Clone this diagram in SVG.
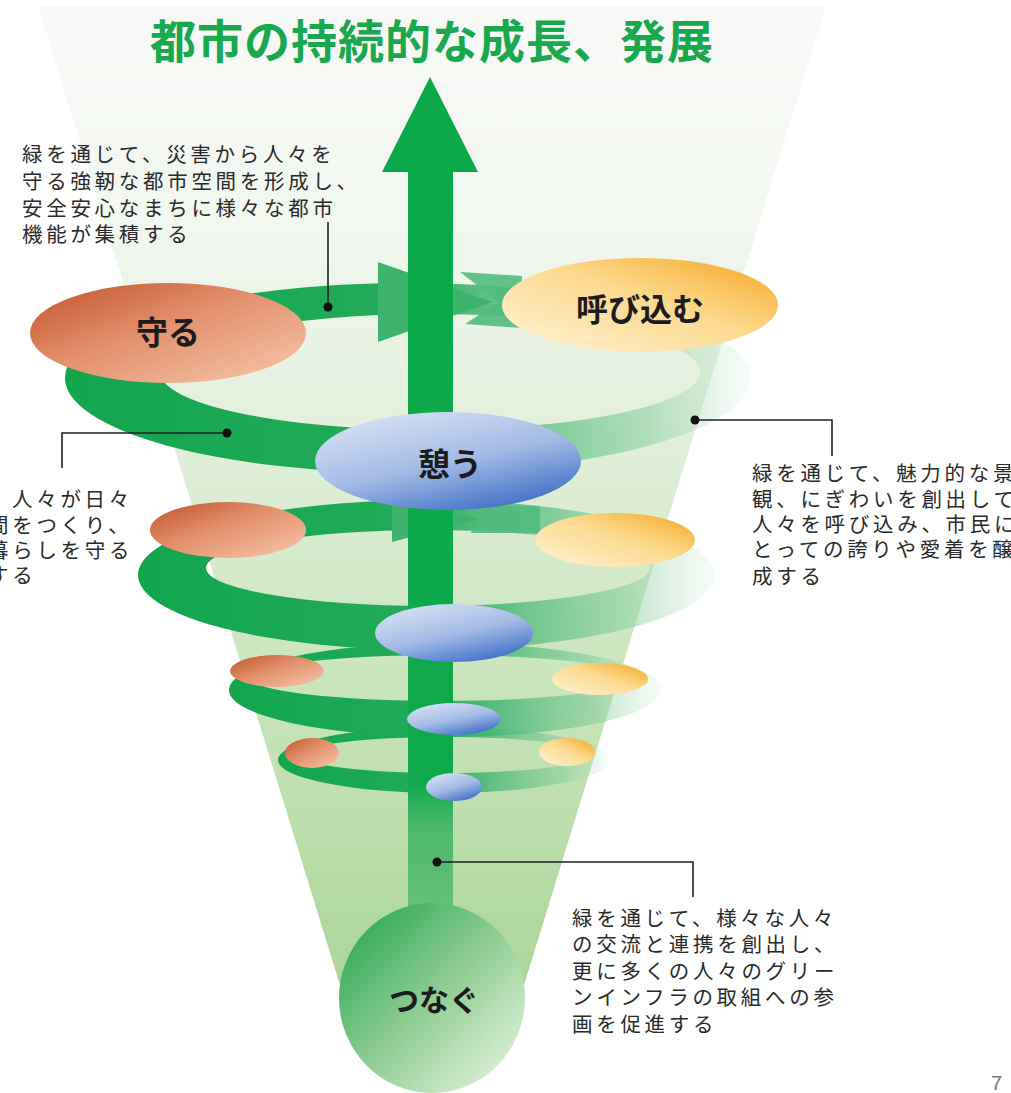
<svg xmlns="http://www.w3.org/2000/svg" width="1011" height="1093" viewBox="0 0 1011 1093">
<defs>
<linearGradient id="coneG" x1="0" y1="0" x2="0" y2="1">
<stop offset="0" stop-color="#f8f9f7"/>
<stop offset="0.22" stop-color="#f2f7f0"/>
<stop offset="0.45" stop-color="#e1efda"/>
<stop offset="0.7" stop-color="#c8e4bb"/>
<stop offset="1" stop-color="#acd59a"/>
</linearGradient>
<linearGradient id="ringG" x1="0" y1="0" x2="1" y2="0">
<stop offset="0" stop-color="#12a54e"/>
<stop offset="0.48" stop-color="#22ab5a"/>
<stop offset="0.62" stop-color="#45b674" stop-opacity="0.85"/>
<stop offset="0.85" stop-color="#7fca99" stop-opacity="0.5"/>
<stop offset="1" stop-color="#c5e5cf" stop-opacity="0.15"/>
</linearGradient>
<linearGradient id="shaftG" x1="0" y1="0" x2="0" y2="1">
<stop offset="0" stop-color="#0aa84a"/>
<stop offset="0.8" stop-color="#0fa94c"/>
<stop offset="0.86" stop-color="#4db86a"/>
<stop offset="1" stop-color="#6cc27e"/>
</linearGradient>
<linearGradient id="orG" x1="0" y1="0" x2="1" y2="1">
<stop offset="0" stop-color="#c0542c"/>
<stop offset="0.45" stop-color="#e38f6c"/>
<stop offset="1" stop-color="#f7c9ae"/>
</linearGradient>
<linearGradient id="yeG" x1="0" y1="1" x2="1" y2="0">
<stop offset="0" stop-color="#fff4d9"/>
<stop offset="0.55" stop-color="#fcd98e"/>
<stop offset="1" stop-color="#f5a51f"/>
</linearGradient>
<linearGradient id="blG" x1="0.2" y1="0" x2="0.8" y2="1">
<stop offset="0" stop-color="#d6e1f3"/>
<stop offset="0.5" stop-color="#a5bce6"/>
<stop offset="1" stop-color="#386ac4"/>
</linearGradient>
<linearGradient id="grG" x1="0.1" y1="0.1" x2="0.9" y2="0.9">
<stop offset="0" stop-color="#33ab59"/>
<stop offset="0.5" stop-color="#8fcc93"/>
<stop offset="1" stop-color="#dcefd6"/>
</linearGradient>
<style>
.ring{fill:url(#ringG);fill-rule:evenodd}
.ah{fill:#3db36d}
.at{fill:#52ba7e;opacity:0.9}
.or{fill:url(#orG)}
.ye{fill:url(#yeG)}
.bl{fill:url(#blG)}
.lbl{font-family:"Noto Sans CJK JP",sans-serif;font-size:32px;font-weight:bold;fill:#1c1c1c;text-anchor:middle}
.body{font-family:"Noto Sans CJK JP",sans-serif;font-size:20.5px;letter-spacing:3.7px;fill:#2a2a2a}
.ln{fill:none;stroke:#222;stroke-width:1.6}
.dot{fill:#111}
</style>
</defs>
<rect width="1011" height="1093" fill="#ffffff"/>
<polygon id="cone" points="38,6 826,6 524,985 340,985" fill="url(#coneG)"/>

<g id="spiral">
<path class="ring" d="M65,378 a343,95 0 1,0 686,0 a343,95 0 1,0 -686,0 Z M160,372 a270,58 0 1,0 540,0 a270,58 0 1,0 -540,0 Z"/>
<path class="ring" d="M138,575 a288,75 0 1,0 576,0 a288,75 0 1,0 -576,0 Z M206,568 a222,38 0 1,0 444,0 a222,38 0 1,0 -444,0 Z"/>
<path class="ring" d="M229,690 a216,47 0 1,0 432,0 a216,47 0 1,0 -432,0 Z M250,678 a191,23 0 1,0 382,0 a191,23 0 1,0 -382,0 Z"/>
<path class="ring" d="M278,760 a166,33 0 1,0 332,0 a166,33 0 1,0 -332,0 Z M300,755 a145,18 0 1,0 290,0 a145,18 0 1,0 -290,0 Z"/>
<polygon class="ah" points="378,262 492,302 378,342"/>
<polygon class="at" points="460,272 522,276 522,328 465,324 499,302"/>
<polygon class="ah" points="392,496 478,519 392,542"/>
<polygon class="at" points="466,505 540,506 540,533 470,533 488,519"/>
</g>

<g id="main-arrow">
<rect x="408" y="170" width="45" height="765" fill="url(#shaftG)"/>
<polygon points="430,77 478,172 382,172" fill="#0aa84a"/>
</g>

<g id="node-mamoru">
<ellipse class="or" cx="168" cy="333" rx="138" ry="50"/>
<text class="lbl" x="168" y="344">守る</text>
</g>
<g id="node-yobikomu">
<ellipse class="ye" cx="640" cy="305" rx="138" ry="47"/>
<text class="lbl" x="640" y="321">呼び込む</text>
</g>
<g id="node-ikou">
<ellipse class="bl" cx="448" cy="461" rx="133" ry="49"/>
<text class="lbl" x="450" y="476">憩う</text>
</g>
<g id="level2">
<ellipse class="or" cx="228" cy="530" rx="78" ry="28"/>
<ellipse class="ye" cx="615" cy="540" rx="80" ry="27"/>
<ellipse class="bl" cx="454" cy="633" rx="79" ry="29"/>
</g>
<g id="level3">
<ellipse class="or" cx="277" cy="671" rx="47" ry="16"/>
<ellipse class="ye" cx="600" cy="679" rx="48" ry="16"/>
<ellipse class="bl" cx="454" cy="719" rx="47" ry="16"/>
</g>
<g id="level4">
<ellipse class="or" cx="312" cy="753" rx="27" ry="15"/>
<ellipse class="ye" cx="567" cy="752" rx="28" ry="14"/>
<ellipse class="bl" cx="454" cy="787" rx="28" ry="14"/>
</g>
<g id="node-tsunagu">
<ellipse cx="432" cy="998" rx="93" ry="95" fill="url(#grG)"/>
<text class="lbl" x="434" y="1011" style="font-size:30px">つなぐ</text>
</g>

<g id="connectors">
<polyline class="ln" points="328,222 328,307"/>
<circle class="dot" cx="328" cy="307" r="4.5"/>
<polyline class="ln" points="62,468 62,433 227,433"/>
<circle class="dot" cx="227" cy="433" r="4.5"/>
<polyline class="ln" points="695,420 832,420 832,456"/>
<circle class="dot" cx="695" cy="420" r="4.5"/>
<polyline class="ln" points="437,862 693,862 693,897"/>
<circle class="dot" cx="437" cy="862" r="4.5"/>
</g>

<g id="text-mamoru">
<text class="body" x="22" y="162">緑を通じて、災害から人々を</text>
<text class="body" x="22" y="189">守る強靭な都市空間を形成し、</text>
<text class="body" x="22" y="216">安全安心なまちに様々な都市</text>
<text class="body" x="22" y="242">機能が集積する</text>
</g>
<g id="text-ikou">
<text class="body" x="12" y="507">人々が日々</text>
<text class="body" x="-12" y="533">間をつくり、</text>
<text class="body" x="-12" y="558">暮らしを守る</text>
<text class="body" x="-12" y="583">する</text>
</g>
<g id="text-yobikomu">
<text class="body" x="752" y="481">緑を通じて、魅力的な景</text>
<text class="body" x="752" y="507">観、にぎわいを創出して</text>
<text class="body" x="752" y="532">人々を呼び込み、市民に</text>
<text class="body" x="752" y="557">とっての誇りや愛着を醸</text>
<text class="body" x="752" y="584">成する</text>
</g>
<g id="text-tsunagu">
<text class="body" x="572" y="926">緑を通じて、様々な人々</text>
<text class="body" x="572" y="952">の交流と連携を創出し、</text>
<text class="body" x="572" y="979">更に多くの人々のグリー</text>
<text class="body" x="572" y="1005">ンインフラの取組への参</text>
<text class="body" x="572" y="1032">画を促進する</text>
</g>

<text id="title" x="150" y="58" style="font-family:'Noto Sans CJK JP',sans-serif;font-size:46px;font-weight:bold;fill:#19a84e;letter-spacing:1px">都市の持続的な成長、発展</text>
<text id="page" x="991" y="1090" style="font-family:'Liberation Sans',sans-serif;font-size:20px;fill:#777">7</text>
</svg>
